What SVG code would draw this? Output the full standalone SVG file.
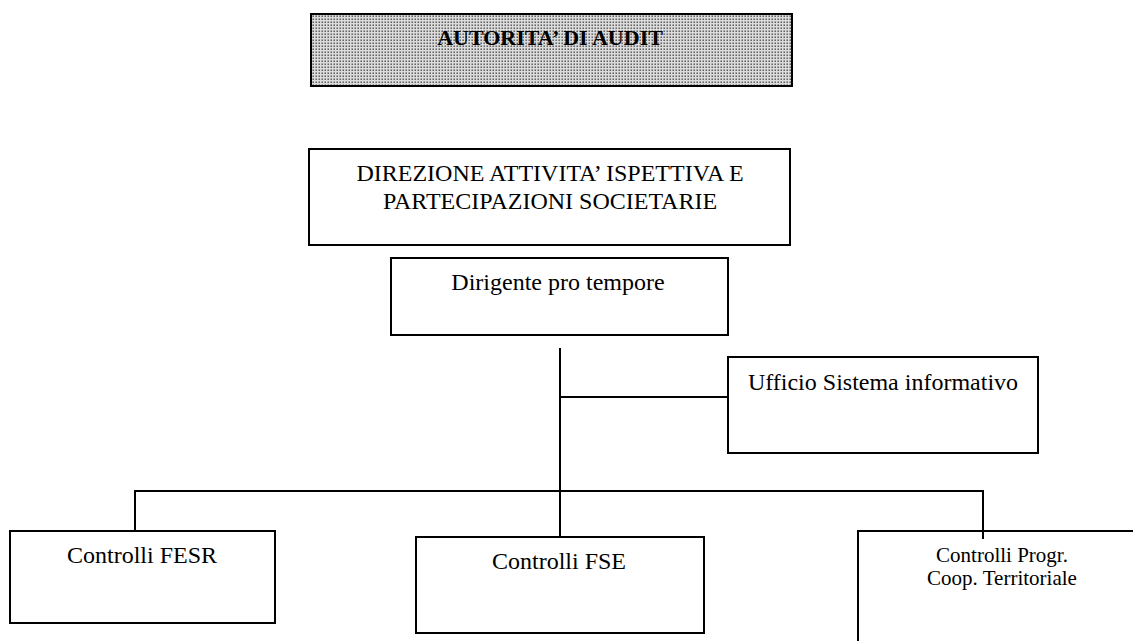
<svg xmlns="http://www.w3.org/2000/svg" width="1133" height="641" viewBox="0 0 1133 641">
  <style>
    .box { fill: #ffffff; stroke: #000000; stroke-width: 2; }
    .wire { fill: none; stroke: #000000; stroke-width: 2; }
    .lbl { font-family: "Liberation Serif", "Times New Roman", serif; fill: #000000; text-anchor: middle; }
    .big { font-size: 24px; }
    .small { font-size: 21px; }
    .head { font-size: 22px; font-weight: bold; }
  </style>
  <defs>
    <!-- halftone screen used for the top heading -->
    <pattern id="screen" width="3" height="3" patternUnits="userSpaceOnUse">
      <rect width="3" height="3" fill="#dcdcdc"/>
      <rect x="0.5" y="0.5" width="1.4" height="1.4" fill="#484848"/>
    </pattern>
  </defs>

  <g id="connectors">
    <line class="wire" x1="560" y1="348" x2="560" y2="537"/>
    <line class="wire" x1="560" y1="397" x2="728" y2="397"/>
    <polyline class="wire" points="135,531 135,491 983,491 983,539"/>
  </g>

  <g id="autorita-audit">
    <rect x="311" y="14" width="481" height="72" fill="url(#screen)" stroke="#000" stroke-width="2"/>
    <text class="lbl head" x="550" y="45">AUTORITA’ DI AUDIT</text>
  </g>

  <g id="direzione">
    <rect class="box" x="309" y="149" width="481" height="96"/>
    <text class="lbl big" x="550" y="181">DIREZIONE ATTIVITA’ ISPETTIVA E</text>
    <text class="lbl big" x="550" y="209">PARTECIPAZIONI SOCIETARIE</text>
  </g>

  <g id="dirigente">
    <rect class="box" x="391" y="258" width="337" height="77"/>
    <text class="lbl big" x="558" y="290">Dirigente pro tempore</text>
  </g>

  <g id="ufficio-sistema">
    <rect class="box" x="728" y="357" width="310" height="96"/>
    <text class="lbl big" x="883" y="390">Ufficio Sistema informativo</text>
  </g>

  <g id="controlli-fesr">
    <rect class="box" x="10" y="531" width="265" height="92"/>
    <text class="lbl big" x="142" y="563">Controlli FESR</text>
  </g>

  <g id="controlli-fse">
    <rect class="box" x="416" y="537" width="288" height="96"/>
    <text class="lbl big" x="559" y="569">Controlli FSE</text>
  </g>

  <g id="controlli-coop">
    <polyline class="wire" points="858,641 858,531 1134,531"/>
    <text class="lbl small" x="1002" y="562">Controlli Progr.</text>
    <text class="lbl small" x="1002" y="585">Coop. Territoriale</text>
  </g>
</svg>
